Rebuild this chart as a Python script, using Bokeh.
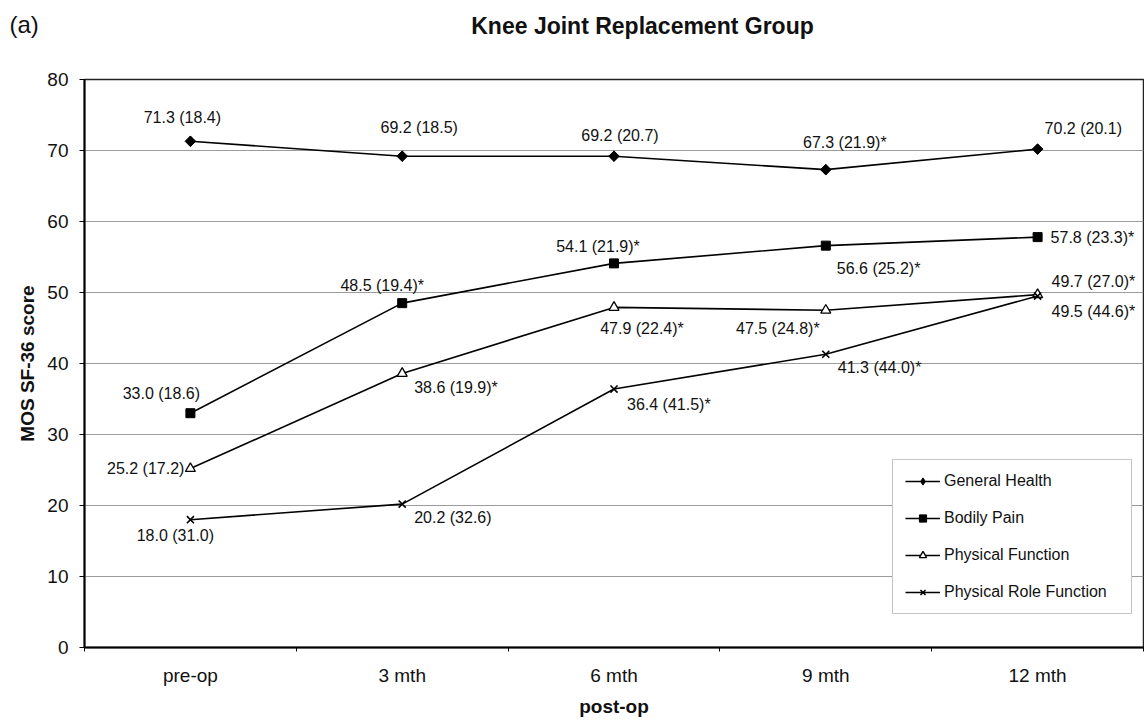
from math import pi

from bokeh.core.properties import value
from bokeh.embed import file_html
from bokeh.models import (ColumnDataSource, FixedTicker, Label, Legend,
                          LegendItem, Range1d)
from bokeh.plotting import figure
from bokeh.resources import INLINE

# ---- data: MOS SF-36 scores, mean (SD); * marks a significant change ----
periods = ["pre-op", "3 mth", "6 mth", "9 mth", "12 mth"]

general_health = [71.3, 69.2, 69.2, 67.3, 70.2]
general_health_sd = [18.4, 18.5, 20.7, 21.9, 20.1]
general_health_sig = [False, False, False, True, False]

bodily_pain = [33.0, 48.5, 54.1, 56.6, 57.8]
bodily_pain_sd = [18.6, 19.4, 21.9, 25.2, 23.3]
bodily_pain_sig = [False, True, True, True, True]

physical_function = [25.2, 38.6, 47.9, 47.5, 49.7]
physical_function_sd = [17.2, 19.9, 22.4, 24.8, 27.0]
physical_function_sig = [False, True, True, True, True]

physical_role = [18.0, 20.2, 36.4, 41.3, 49.5]
physical_role_sd = [31.0, 32.6, 41.5, 44.0, 44.6]
physical_role_sig = [False, False, True, True, True]

y_ticks = [0, 10, 20, 30, 40, 50, 60, 70, 80]

# ---- label placement per point: (align, x offset px, y offset px) ----
gh_place = [("center", -8, -24), ("center", 17, -29), ("center", 6, -21),
            ("center", 19, -27), ("left", 7, -21)]
bp_place = [("center", -29, -20), ("center", -20, -18), ("center", -16, -17),
            ("left", 11, 23), ("left", 13, 0)]
pf_place = [("right", -6, 0), ("left", 12, 14), ("center", 28, 21),
            ("center", -48, 18), ("left", 14, -13)]
pr_place = [("center", -15, 16), ("left", 12, 13), ("left", 13, 15),
            ("left", 12, 13), ("left", 14, 15)]

FONT = "Liberation Sans"
INK = "#111111"

centers = [i + 0.5 for i in range(len(periods))]
boundaries = list(range(len(periods) + 1))

p = figure(width=1144, height=720,
           x_range=Range1d(0, len(periods)), y_range=Range1d(0, 80),
           output_backend="svg", toolbar_location=None,
           min_border_left=84, min_border_right=1,
           min_border_top=79, min_border_bottom=73)
p.title.visible = False
p.background_fill_color = "white"
p.border_fill_color = "white"
p.outline_line_color = "#222222"
p.outline_line_width = 1.5

# grid
p.xgrid.visible = False
p.ygrid.ticker = FixedTicker(ticks=y_ticks)
p.ygrid.grid_line_color = "#9c9c9c"
p.ygrid.grid_line_width = 1

# y axis
p.yaxis.ticker = FixedTicker(ticks=y_ticks)
p.yaxis.axis_line_width = 2
p.yaxis.axis_line_color = "black"
p.yaxis.major_tick_out = 5
p.yaxis.major_tick_in = 0
p.yaxis.minor_tick_line_color = None
p.yaxis.major_label_standoff = 11
p.yaxis.major_label_text_font = FONT
p.yaxis.major_label_text_font_size = "19px"
p.yaxis.major_label_text_color = INK
p.yaxis.axis_label = "MOS SF-36 score"
p.yaxis.axis_label_standoff = 6
p.yaxis.axis_label_text_font = FONT
p.yaxis.axis_label_text_font_size = "19px"
p.yaxis.axis_label_text_font_style = "bold"
p.yaxis.axis_label_text_color = INK

# x axis: labels at category centres, small ticks on category boundaries
p.xaxis.ticker = FixedTicker(ticks=centers, minor_ticks=boundaries)
p.xaxis.major_label_overrides = {c: name for c, name in zip(centers, periods)}
p.xaxis.axis_line_width = 2
p.xaxis.axis_line_color = "black"
p.xaxis.major_tick_line_color = None
p.xaxis.minor_tick_line_color = "black"
p.xaxis.minor_tick_out = 4
p.xaxis.minor_tick_in = 0
p.xaxis.major_label_standoff = 11
p.xaxis.major_label_text_font = FONT
p.xaxis.major_label_text_font_size = "19px"
p.xaxis.major_label_text_color = INK
p.xaxis.axis_label = "post-op"
p.xaxis.axis_label_standoff = 7
p.xaxis.axis_label_text_font = FONT
p.xaxis.axis_label_text_font_size = "19px"
p.xaxis.axis_label_text_font_style = "bold"
p.xaxis.axis_label_text_color = INK

series = [
    ("General Health", general_health, general_health_sd, general_health_sig, gh_place,
     dict(marker="square", angle=pi / 4, size=7.5, fill_color="black", line_color="black")),
    ("Bodily Pain", bodily_pain, bodily_pain_sd, bodily_pain_sig, bp_place,
     dict(marker="square", size=9, fill_color="black", line_color="black")),
    ("Physical Function", physical_function, physical_function_sd, physical_function_sig, pf_place,
     dict(marker="triangle", size=10, fill_color="white", line_color="black", line_width=1.3)),
    ("Physical Role Function", physical_role, physical_role_sd, physical_role_sig, pr_place,
     dict(marker="x", size=10, line_color="black", line_width=1.6)),
]

items = []
lab_x, lab_y, lab_text, lab_dx, lab_dy, lab_align = [], [], [], [], [], []
for name, vals, sds, sigs, place, mk in series:
    src = ColumnDataSource(dict(x=centers, y=vals))
    ln = p.line("x", "y", source=src, line_color="black", line_width=1.6)
    if mk.get("angle"):
        # upright diamond sitting inside the rotated square; it is the one
        # the legend swatch shows, since the swatch ignores rotation
        swatch = p.scatter("x", "y", source=src, marker="diamond", size=10,
                           fill_color="black", line_color="black")
        p.scatter("x", "y", source=src, **mk)
    else:
        swatch = p.scatter("x", "y", source=src, **mk)
    items.append(LegendItem(label=name, renderers=[ln, swatch]))
    for x, v, sd, sig, (al, dx, dy) in zip(centers, vals, sds, sigs, place):
        lab_x.append(x)
        lab_y.append(v)
        lab_text.append(f"{v:.1f} ({sd:.1f})" + ("*" if sig else ""))
        lab_dx.append(dx)
        lab_dy.append(dy)
        lab_align.append(al)

labels = ColumnDataSource(dict(x=lab_x, y=lab_y, text=lab_text,
                               dx=lab_dx, dy=lab_dy, align=lab_align))
p.text("x", "y", text="text", source=labels, x_offset="dx", y_offset="dy",
       text_align="align", text_baseline="middle",
       text_font=value(FONT), text_font_size="16px", text_color=INK)

legend = Legend(items=items, location=(808, 33),
                border_line_color="#8a8a8a", border_line_width=1,
                background_fill_color="white", background_fill_alpha=1,
                label_text_font=FONT, label_text_font_size="16px",
                label_text_color=INK,
                glyph_width=35, glyph_height=18, label_height=18,
                spacing=19, padding=12, margin=0, label_standoff=4,
                label_width=175)
p.add_layout(legend, "center")

# heading row, placed in the top panel (canvas pixel coordinates)
p.add_layout(Label(x=642, y=25, x_units="canvas", y_units="canvas",
                   text="Knee Joint Replacement Group", text_align="center",
                   text_baseline="middle", text_font=FONT, text_font_size="23px",
                   text_font_style="bold", text_color=INK), "above")
p.add_layout(Label(x=9, y=24, x_units="canvas", y_units="canvas",
                   text="(a)", text_align="left", text_baseline="middle",
                   text_font=FONT, text_font_size="24px", text_color=INK), "above")

open("out.html", "w").write(file_html(p, INLINE))
